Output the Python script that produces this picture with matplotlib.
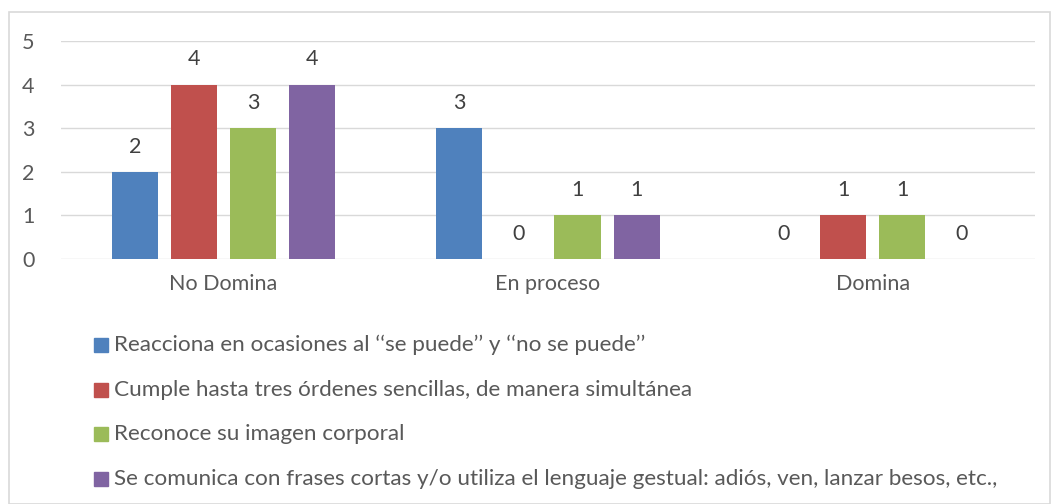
import numpy as np
import matplotlib
matplotlib.use("Agg")
from matplotlib import pyplot as plt
from matplotlib.patches import Rectangle

plt.rcParams.update({'font.family': ['Lato', 'DejaVu Sans']})

categories = ["No Domina", "En proceso", "Domina"]
series_names = [
    "Reacciona en ocasiones al \u2018\u2018se puede\u2019\u2019 y \u2018\u2018no se puede\u2019\u2019",
    "Cumple hasta tres órdenes sencillas, de manera simultánea",
    "Reconoce su imagen corporal",
    "Se comunica con frases cortas y/o utiliza el lenguaje gestual: adiós, ven, lanzar besos, etc.,",
]
reacciona = [2, 3, 0]
cumple = [4, 0, 1]
reconoce = [3, 1, 1]
comunica = [4, 1, 0]
colors = ["#4F81BD", "#C0504D", "#9BBB59", "#8064A2"]

fig = plt.figure(figsize=(10.56, 5.04), dpi=100)
fig.patches.append(Rectangle((9 / 1056, 0.0), 1041 / 1056, 1 - 12 / 504,
                             transform=fig.transFigure, fill=False,
                             ec="#D9D9D9", lw=1.2))
ax = fig.add_axes([61 / 1056, 1 - 259 / 504, 974 / 1056, 218 / 504])

x = np.arange(len(categories))
step = 0.182
width = 0.142
text_c = "#404040"
for i, vals in enumerate([reacciona, cumple, reconoce, comunica]):
    pos = x + (i - 1.5) * step
    ax.bar(pos, vals, width, color=colors[i], zorder=3)
    for p, v in zip(pos, vals):
        ax.text(p, v + 0.58, str(v), ha="center", va="center",
                fontsize=15.5, color=text_c)

ax.set_xlim(-0.5, 2.5)
ax.set_ylim(0, 5)
ax.set_yticks(range(6))
ax.grid(axis="y", color="#D9D9D9", lw=1, zorder=0)
for s in ax.spines.values():
    s.set_visible(False)
ax.tick_params(axis="both", length=0, labelsize=15.5, labelcolor="#595959")
ax.tick_params(axis="y", pad=19)
ax.tick_params(axis="x", pad=11)
ax.set_xticks(x)
ax.set_xticklabels(categories)

# legend, stacked vertically below the plot
leg_y = [345, 390, 434, 479]
for c, name, yy in zip(colors, series_names, leg_y):
    fig.patches.append(Rectangle((94 / 1056, 1 - (yy + 7) / 504), 14 / 1056, 14 / 504,
                                 transform=fig.transFigure, color=c))
    fig.text(114 / 1056, 1 - yy / 504, name, fontsize=16.2, color="#595959",
             va="center", ha="left")

plt.savefig("out.png", dpi=100)
